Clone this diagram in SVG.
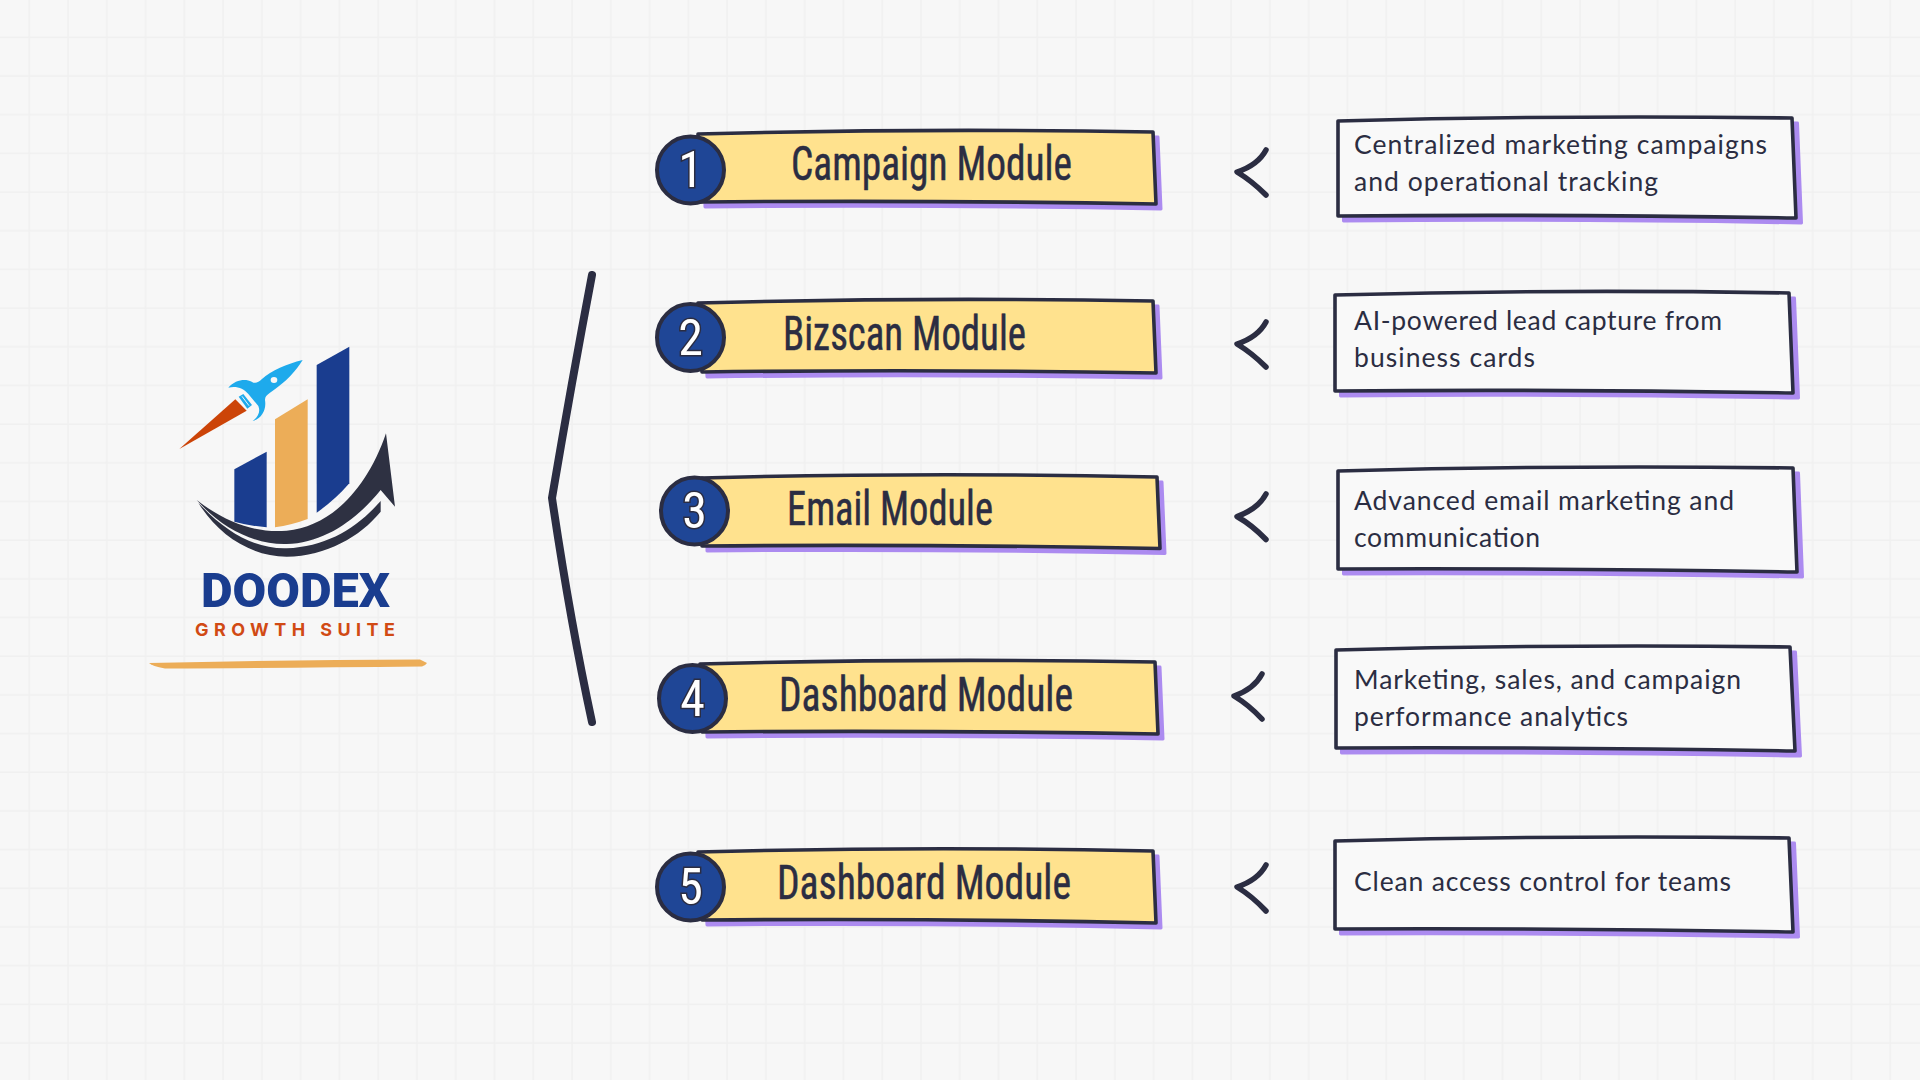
<svg xmlns="http://www.w3.org/2000/svg" width="1920" height="1080" viewBox="0 0 1920 1080">
<style>
.bar{fill:#ffe28e;stroke:#2b2d42;stroke-width:3.600;stroke-linejoin:round}
.box{fill:#f9f9f9;stroke:#2b2d42;stroke-width:3.600;stroke-linejoin:round}
.shadow{fill:#ac8bf0;stroke:#ac8bf0;stroke-width:3;stroke-linejoin:round}
.badge{fill:#1f4696;stroke:#2b2d42;stroke-width:4}
.digit{font-family:"Liberation Sans Narrow","Roboto Condensed",Roboto,sans-serif;font-size:50px;font-weight:400;fill:#fff;stroke:#2b2d42;stroke-width:3px;paint-order:stroke;text-anchor:middle}
.title{font-family:"Liberation Sans Narrow","Roboto Condensed",Roboto,sans-serif;font-size:49px;fill:#2b2d42;stroke:#2b2d42;stroke-width:.5px;stroke-linejoin:round}
.desc{font-family:Lato,"Noto Sans",sans-serif;font-size:26.500px;fill:#2b2d42}
.conn{fill:none;stroke:#2b2d42;stroke-linecap:round;stroke-linejoin:round}
.chev{stroke-width:5.500}
.navy{fill:#1a3d8f}.gold{fill:#ecad58}.ink{fill:#2e3142}.sky{fill:#1eaaec}.flame{fill:#cc4408}
</style>
<defs>
<pattern id="grid" patternUnits="userSpaceOnUse" x="10.3" y="18.3" width="38.77" height="38.68">
<path d="M19 0V38.68M0 19H38.77" fill="none" stroke="#f0f0f0" stroke-width="1.500"/>
</pattern>
</defs>
<rect width="1920" height="1080" fill="#f7f7f7"/>
<rect width="1920" height="1080" fill="url(#grid)"/>

<g id="logo">
<g transform="translate(130 320) scale(.33333)">
<path class="navy" d="M313 448L410 395V622Q360 618 313 605Z"/>
<path class="gold" d="M435 298L533 238V597Q485 615 435 622Z"/>
<path class="navy" d="M560 135L658 80V490Q615 540 560 578Z"/>
<path class="ink" d="M200 540C290 610 380 640 470 632C600 620 710 510 768 340L795 560L752 510C680 600 580 670 470 672C370 675 270 620 200 540Z"/>
<path class="ink" d="M205 548C260 640 360 710 470 710C590 708 690 650 752 575V543C680 625 590 680 470 685C370 688 280 630 205 548Z"/>
<path class="flame" d="M148 387L316 238L350 272Z"/>
<path class="sky" d="M326 230L340 222L366 255L352 266Z"/>
<path d="M336 229L357 257" stroke="#e8f6fd" stroke-width="3" fill="none"/>
<path class="sky" d="M518 120C470 132 425 150 395 178C385 188 375 192 365 185C345 175 315 180 295 203C320 197 340 205 355 222L385 258C392 275 385 290 368 303C395 295 410 270 405 240C405 230 410 225 420 218C470 185 500 150 518 120Z"/>
<ellipse cx="432" cy="180" rx="10" ry="9" fill="#f7f7f7"/>
</g>
<text x="201" y="606.500" font-family="Roboto,'Liberation Sans',sans-serif" font-weight="900" font-size="48" fill="#1a3d8f" textLength="189" lengthAdjust="spacingAndGlyphs">DOODEX</text>
<text x="195" y="636" font-family="Inter,'Liberation Sans',sans-serif" font-weight="700" font-size="18" fill="#d14a14" textLength="200" lengthAdjust="spacing">GROWTH SUITE</text>
<path class="gold" d="M149 663Q280 660 420 659.500L427 663Q425 666 422 666.500Q280 668 165 668.500Q152 666 149 663Z"/>
</g>

<g id="connectors">
<path class="conn" stroke-width="8" d="M592 275Q572 380 552 498Q570 620 592 722"/>
<path class="conn chev" d="M1266 150Q1258 165 1237 172Q1252 181 1266 195"/>
<path class="conn chev" d="M1266 322Q1258 337 1237 344Q1252 353 1266 367"/>
<path class="conn chev" d="M1266 494Q1258 509 1237 516.500Q1252 525 1266 539.500"/>
<path class="conn chev" d="M1262 674Q1254 689 1234 696Q1249 705 1262 719"/>
<path class="conn chev" d="M1266 865Q1258 880 1237 887Q1252 896 1266 911"/>
</g>

<g id="module-1">
<path class="shadow" transform="translate(5 5)" d="M698 134Q920 128 1153 132L1156 204Q930 200 700 202Z"/>
<path class="bar" d="M698 134Q920 128 1153 132L1156 204Q930 200 700 202Z"/>
<circle class="badge" cx="690.500" cy="170" r="33.500"/>
<text class="digit" x="690.500" y="187">1</text>
<text class="title" x="791" y="180" textLength="281" lengthAdjust="spacingAndGlyphs">Campaign Module</text>
</g>
<g id="module-2">
<path class="shadow" transform="translate(5 5)" d="M698 303Q920 297 1153 301L1156 373Q930 369 702 372Z"/>
<path class="bar" d="M698 303Q920 297 1153 301L1156 373Q930 369 702 372Z"/>
<circle class="badge" cx="690.500" cy="337.500" r="33.500"/>
<text class="digit" x="690.500" y="355">2</text>
<text class="title" x="783" y="349.500" textLength="243" lengthAdjust="spacingAndGlyphs">Bizscan Module</text>
</g>
<g id="module-3">
<path class="shadow" transform="translate(5 5)" d="M702 478Q920 472 1157 477L1160 548.500Q930 544 702 546Z"/>
<path class="bar" d="M702 478Q920 472 1157 477L1160 548.500Q930 544 702 546Z"/>
<circle class="badge" cx="694.500" cy="511" r="33.500"/>
<text class="digit" x="694.500" y="528">3</text>
<text class="title" x="787" y="524.500" textLength="206" lengthAdjust="spacingAndGlyphs">Email Module</text>
</g>
<g id="module-4">
<path class="shadow" transform="translate(5 5)" d="M700 664Q920 658 1155 662L1158 734Q930 730 702 732Z"/>
<path class="bar" d="M700 664Q920 658 1155 662L1158 734Q930 730 702 732Z"/>
<circle class="badge" cx="692.500" cy="698.500" r="33.500"/>
<text class="digit" x="692.500" y="716">4</text>
<text class="title" x="779" y="710.500" textLength="294" lengthAdjust="spacingAndGlyphs">Dashboard Module</text>
</g>
<g id="module-5">
<path class="shadow" transform="translate(5 5)" d="M698 852Q920 846 1153 851L1156 923Q930 918 702 920Z"/>
<path class="bar" d="M698 852Q920 846 1153 851L1156 923Q930 918 702 920Z"/>
<circle class="badge" cx="690.500" cy="887" r="33.500"/>
<text class="digit" x="690.500" y="904">5</text>
<text class="title" x="777" y="898.500" textLength="294" lengthAdjust="spacingAndGlyphs">Dashboard Module</text>
</g>

<g id="detail-1">
<path class="shadow" transform="translate(5.500 5)" d="M1338 121Q1560 115 1792 118L1796 218Q1560 214 1338 216Z"/>
<path class="box" d="M1338 121Q1560 115 1792 118L1796 218Q1560 214 1338 216Z"/>
<text class="desc" x="1354" y="153.500" textLength="413">Centralized marketing campaigns</text>
<text class="desc" x="1354" y="190.500" textLength="304">and operational tracking</text>
</g>
<g id="detail-2">
<path class="shadow" transform="translate(5.500 5)" d="M1335 295Q1560 289 1789 293L1793 393Q1560 389 1335 391Z"/>
<path class="box" d="M1335 295Q1560 289 1789 293L1793 393Q1560 389 1335 391Z"/>
<text class="desc" x="1354" y="330" textLength="368">AI-powered lead capture from</text>
<text class="desc" x="1354" y="367" textLength="181">business cards</text>
</g>
<g id="detail-3">
<path class="shadow" transform="translate(5.500 5)" d="M1338 471Q1560 465 1793 468L1797 572Q1560 568 1338 569Z"/>
<path class="box" d="M1338 471Q1560 465 1793 468L1797 572Q1560 568 1338 569Z"/>
<text class="desc" x="1354" y="510" textLength="380">Advanced email marketing and</text>
<text class="desc" x="1354" y="546.500" textLength="186">communication</text>
</g>
<g id="detail-4">
<path class="shadow" transform="translate(5.500 5)" d="M1336 650Q1560 644 1790 647L1795 751Q1560 747 1336 748Z"/>
<path class="box" d="M1336 650Q1560 644 1790 647L1795 751Q1560 747 1336 748Z"/>
<text class="desc" x="1354" y="689" textLength="387">Marketing, sales, and campaign</text>
<text class="desc" x="1354" y="726" textLength="274">performance analytics</text>
</g>
<g id="detail-5">
<path class="shadow" transform="translate(5.500 5)" d="M1335 841Q1560 835 1789 838L1793 932Q1560 928 1335 929Z"/>
<path class="box" d="M1335 841Q1560 835 1789 838L1793 932Q1560 928 1335 929Z"/>
<text class="desc" x="1354" y="890.500" textLength="377">Clean access control for teams</text>
</g>
</svg>
